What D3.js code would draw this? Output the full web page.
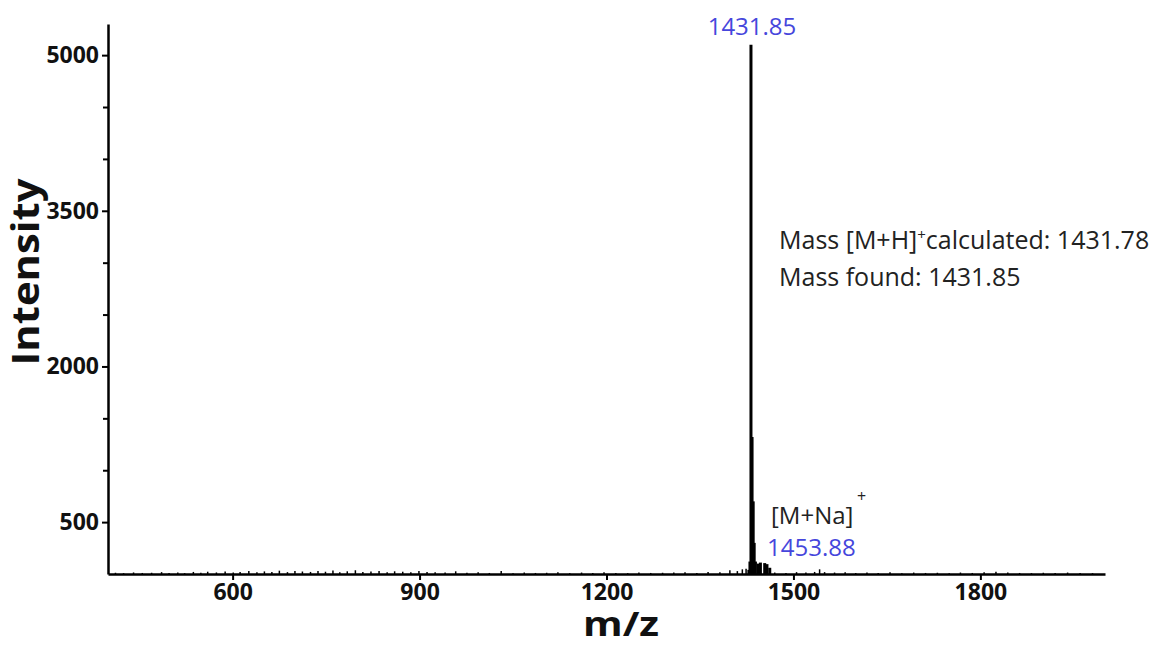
<!DOCTYPE html>
<html>
<head>
<meta charset="utf-8">
<script src="https://cdn.jsdelivr.net/npm/d3@7"></script>
<style>
  body { margin: 0; background: #fff; }
  svg { font-family: "Open Sans", sans-serif; }
  .tick-label { font-size: 23px; font-weight: bold; fill: #111; font-family: "Open Sans", sans-serif; }
  .axis-title { font-size: 37px; font-weight: bold; fill: #111; }
  .note { font-size: 25px; fill: #222; }
  .blue { font-size: 24px; fill: #4646dc; }
</style>
</head>
<body>
<script>
var width = 1160, height = 648;
var margin = {top: 24, right: 55, bottom: 74, left: 108};

// spectrum peaks (m/z, intensity)
var peakMz  = [1428.5, 1430.2, 1431.85, 1433.6, 1435.4, 1437.0, 1439.0, 1443.5, 1447.0, 1453.88, 1457.5, 1462.0];
var peakInt = [40, 120, 5100, 1320, 700, 300, 120, 100, 110, 105, 95, 60];

// baseline noise
var noiseMz = [412, 425, 441, 455, 470, 486, 498, 512, 523, 537, 549, 560, 574, 588, 601, 612, 626, 639,
    651, 663, 675, 688, 700, 712, 725, 737, 749, 761, 772, 784, 797, 809, 822, 835, 848, 860, 873, 886,
    899, 912, 925, 941, 958, 976, 994, 1012, 1031, 1050, 1068, 1086, 1104, 1122, 1141, 1160, 1178, 1196,
    1215, 1234, 1252, 1271, 1290, 1308, 1326, 1345, 1363, 1382, 1398, 1410, 1418, 1424, 1470, 1488,
    1505, 1520, 1534, 1542, 1550, 1566, 1583, 1600, 1618, 1636, 1655, 1674, 1693, 1712, 1731, 1750,
    1768, 1787, 1806, 1825, 1844, 1863, 1882, 1901, 1920, 1940, 1960, 1980];
var noiseInt = [12, 8, 15, 10, 12, 18, 10, 15, 8, 20, 12, 22, 15, 25, 14, 20, 30, 18,
    25, 20, 32, 18, 28, 24, 20, 30, 22, 34, 18, 26, 36, 20, 25, 30, 18, 26, 22, 18,
    28, 20, 18, 14, 26, 12, 18, 10, 30, 8, 14, 10, 12, 18, 8, 14, 10, 16,
    10, 8, 14, 10, 12, 14, 18, 10, 20, 18, 35, 28, 45, 50, 14, 10,
    18, 14, 20, 45, 18, 14, 18, 10, 14, 10, 18, 8, 14, 10, 12, 8,
    14, 10, 18, 22, 14, 10, 8, 12, 10, 14, 10, 8];

var xTicks = [600, 900, 1200, 1500, 1800];
var yMajor = [500, 2000, 3500, 5000];
var yMinor = [1000, 1500, 2500, 3000, 4000, 4500];

var svg = d3.select("body").append("svg")
    .attr("width", width)
    .attr("height", height);

var x = d3.scaleLinear().domain([400, 2000]).range([margin.left, width - margin.right]);
var y = d3.scaleLinear().domain([0, 5300]).range([height - margin.bottom, margin.top]);

var peaks = peakMz.map(function(m, i) { return {mz: m, v: peakInt[i]}; });
var noise = noiseMz.map(function(m, i) { return {mz: m, v: noiseInt[i]}; });

// noise sticks
svg.selectAll(".noise")
    .data(noise)
    .enter()
    .append("line")
    .attr("x1", function(d) { return x(d.mz); })
    .attr("x2", function(d) { return x(d.mz); })
    .attr("y1", y(0))
    .attr("y2", function(d) { return y(d.v); })
    .attr("stroke", "#000")
    .attr("stroke-width", 1.5);

// peak sticks
svg.selectAll(".peak")
    .data(peaks)
    .enter()
    .append("line")
    .attr("x1", function(d) { return x(d.mz); })
    .attr("x2", function(d) { return x(d.mz); })
    .attr("y1", y(0))
    .attr("y2", function(d) { return y(d.v); })
    .attr("stroke", "#000")
    .attr("stroke-width", 3);

// x axis
var xAxis = svg.append("g")
    .attr("transform", "translate(0," + y(0) + ")")
    .call(d3.axisBottom(x).tickValues(xTicks).tickFormat(d3.format("d"))
        .tickSize(6).tickSizeOuter(0).tickPadding(4));
xAxis.attr("font-family", null).attr("font-size", null);
xAxis.select(".domain").attr("stroke-width", 2.5);
xAxis.selectAll(".tick line").attr("stroke-width", 2);
xAxis.selectAll(".tick text").attr("class", "tick-label");

// y axis, minor ticks first
svg.append("g")
    .attr("transform", "translate(" + margin.left + ",0)")
    .call(d3.axisLeft(y).tickValues(yMinor).tickSize(5).tickFormat(""))
    .call(function(g) { g.select(".domain").remove(); })
    .selectAll(".tick line").attr("stroke-width", 2);

var yAxis = svg.append("g")
    .attr("transform", "translate(" + margin.left + ",0)")
    .call(d3.axisLeft(y).tickValues(yMajor).tickFormat(d3.format("d"))
        .tickSize(6).tickSizeOuter(0).tickPadding(3));
yAxis.attr("font-family", null).attr("font-size", null);
yAxis.select(".domain").attr("stroke-width", 2.5);
yAxis.selectAll(".tick line").attr("stroke-width", 2);
yAxis.selectAll(".tick text").attr("class", "tick-label");

// axis titles
svg.append("text")
    .attr("class", "axis-title")
    .attr("x", 621)
    .attr("y", 636)
    .attr("text-anchor", "middle")
    .attr("font-size", 34)
    .attr("textLength", 76)
    .attr("lengthAdjust", "spacingAndGlyphs")
    .style("font-size", "34px")
    .text("m/z");

svg.append("text")
    .attr("class", "axis-title")
    .attr("transform", "translate(39,272) rotate(-90)")
    .attr("text-anchor", "middle")
    .attr("textLength", 187)
    .attr("lengthAdjust", "spacingAndGlyphs")
    .text("Intensity");

// annotations
svg.append("text")
    .attr("class", "blue")
    .attr("x", 752)
    .attr("y", 35)
    .attr("text-anchor", "middle")
    .text("1431.85");

var calc = svg.append("text").attr("class", "note").attr("x", 779).attr("y", 249);
calc.append("tspan").text("Mass [M+H]");
calc.append("tspan").attr("dy", -9).attr("font-size", 15).text("+");
calc.append("tspan").attr("dy", 9).text("calculated: 1431.78");

svg.append("text").attr("class", "note").attr("x", 779).attr("y", 286).text("Mass found: 1431.85");

svg.append("text").attr("class", "note").attr("x", 771).attr("y", 524).style("font-size", "24px").text("[M+Na]");
svg.append("text").attr("class", "note").attr("x", 857).attr("y", 502).style("font-size", "16px").text("+");

svg.append("text")
    .attr("class", "blue")
    .attr("x", 767)
    .attr("y", 556)
    .text("1453.88");
</script>
</body>
</html>
